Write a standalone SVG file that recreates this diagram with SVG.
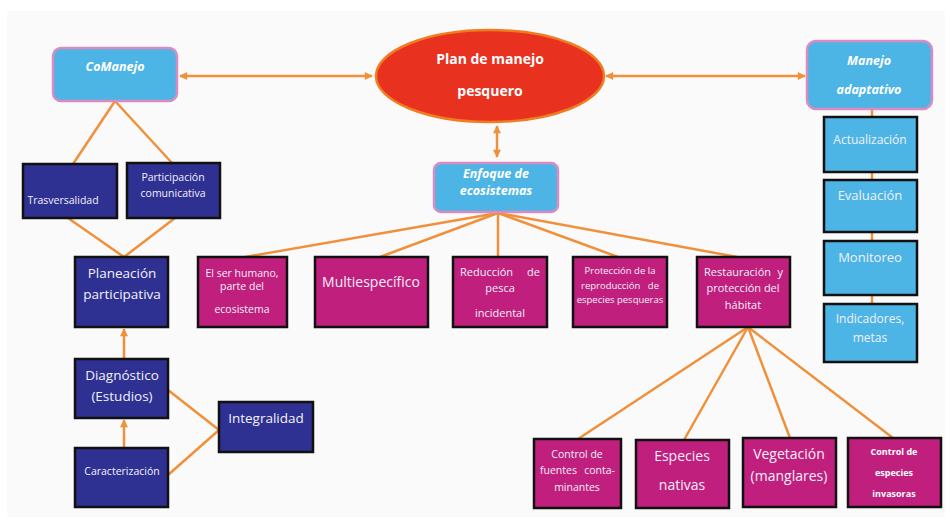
<svg xmlns="http://www.w3.org/2000/svg" width="950" height="524" viewBox="0 0 950 524">
<defs>
<style>
.bg{fill:#fafafa}
.ln{stroke:#f0903a;stroke-width:2.5;fill:none}
.hdr{fill:#4db5e6;stroke:#d98cc2;stroke-width:2.5}
.navy{fill:#2e3192;stroke:#111;stroke-width:2.5}
.mag{fill:#c01f7e;stroke:#111;stroke-width:2.5}
.blue{fill:#4db5e6;stroke:#111;stroke-width:2.5}
text{font-family:"Open Sans","Liberation Sans",sans-serif;fill:#f2f0f8;text-anchor:middle}
text.s{text-anchor:start}
text.e{text-anchor:end}
.hi{font-style:italic;font-weight:bold;fill:#fff;font-size:12.5px}
.b{font-weight:bold;fill:#fff}
</style>
<marker id="ah" viewBox="0 0 10 10" refX="9" refY="5" markerWidth="9" markerHeight="8" markerUnits="userSpaceOnUse" orient="auto-start-reverse">
<path d="M0,0 L10,5 L0,10 z" fill="#f0903a"/>
</marker>
</defs>
<rect class="bg" x="7" y="11" width="938" height="506"/>
<g id="connectors">
<line class="ln" x1="180" y1="76" x2="372" y2="76" marker-start="url(#ah)" marker-end="url(#ah)"/>
<line class="ln" x1="606" y1="76" x2="805" y2="76" marker-start="url(#ah)" marker-end="url(#ah)"/>
<line class="ln" x1="497" y1="126" x2="497" y2="157" marker-start="url(#ah)" marker-end="url(#ah)"/>
<line class="ln" x1="115" y1="101" x2="73" y2="164"/>
<line class="ln" x1="115" y1="101" x2="172" y2="163"/>
<line class="ln" x1="68" y1="218" x2="124" y2="257"/>
<line class="ln" x1="175" y1="218" x2="124" y2="257"/>
<line class="ln" x1="124" y1="359" x2="124" y2="329" marker-end="url(#ah)"/>
<line class="ln" x1="124" y1="448" x2="124" y2="420" marker-end="url(#ah)"/>
<line class="ln" x1="168" y1="390" x2="219" y2="430"/>
<line class="ln" x1="168" y1="475" x2="219" y2="430"/>
<line class="ln" x1="498" y1="213" x2="245" y2="257"/>
<line class="ln" x1="498" y1="213" x2="380" y2="257"/>
<line class="ln" x1="498" y1="213" x2="498" y2="257"/>
<line class="ln" x1="498" y1="213" x2="618" y2="257"/>
<line class="ln" x1="498" y1="213" x2="737" y2="257"/>
<line class="ln" x1="748" y1="327" x2="578" y2="439"/>
<line class="ln" x1="748" y1="327" x2="684" y2="440"/>
<line class="ln" x1="748" y1="327" x2="790" y2="438"/>
<line class="ln" x1="748" y1="327" x2="893" y2="438"/>
<line class="ln" x1="872" y1="109" x2="872" y2="117"/>
<line class="ln" x1="872" y1="172" x2="872" y2="180"/>
<line class="ln" x1="872" y1="232" x2="872" y2="241"/>
<line class="ln" x1="872" y1="295" x2="872" y2="304"/>
</g>
<g id="plan">
<ellipse cx="490" cy="76" rx="114" ry="46" fill="#e8311f" stroke="#f07b20" stroke-width="2.5"/>
<text class="b" x="490" y="64" font-size="14">Plan de manejo</text>
<text class="b" x="490" y="96" font-size="14">pesquero</text>
</g>
<g id="comanejo">
<rect class="hdr" x="53" y="48" width="124" height="53" rx="8"/>
<text class="hi" x="115" y="71">CoManejo</text>
</g>
<g id="manejo-adaptativo">
<rect class="hdr" x="807" y="41" width="125" height="68" rx="9"/>
<text class="hi" x="869" y="65">Manejo</text>
<text class="hi" x="869" y="94">adaptativo</text>
</g>
<g id="enfoque">
<rect class="hdr" x="434" y="163" width="124" height="49" rx="7"/>
<text class="hi" x="496" y="178" font-size="11.5">Enfoque de</text>
<text class="hi" x="496" y="195" font-size="11.5">ecosistemas</text>
</g>
<g id="trasversalidad">
<rect class="navy" x="23" y="164" width="94" height="54"/>
<text x="63" y="204" font-size="10.5">Trasversalidad</text>
</g>
<g id="participacion">
<rect class="navy" x="127" y="163" width="93" height="55"/>
<text x="173" y="181" font-size="10.5">Participación</text>
<text x="173" y="197" font-size="10.5">comunicativa</text>
</g>
<g id="planeacion">
<rect class="navy" x="75" y="257" width="93" height="70"/>
<text x="122" y="278" font-size="13.5">Planeación</text>
<text x="122" y="299" font-size="13.5">participativa</text>
</g>
<g id="diagnostico">
<rect class="navy" x="75" y="359" width="93" height="59"/>
<text x="122" y="380" font-size="13.5">Diagnóstico</text>
<text x="122" y="401" font-size="13.5">(Estudios)</text>
</g>
<g id="caracterizacion">
<rect class="navy" x="75" y="448" width="93" height="59"/>
<text x="122" y="475" font-size="10.5">Caracterización</text>
</g>
<g id="integralidad">
<rect class="navy" x="219" y="402" width="94" height="50"/>
<text x="266" y="423" font-size="13.5">Integralidad</text>
</g>
<g id="ser-humano">
<rect class="mag" x="198" y="257" width="89" height="70"/>
<text x="242" y="277" font-size="10.5">El ser humano,</text>
<text x="242" y="290" font-size="10.5">parte del</text>
<text x="242" y="313" font-size="10.5">ecosistema</text>
</g>
<g id="multiespecifico">
<rect class="mag" x="315" y="257" width="113" height="70"/>
<text x="371" y="287" font-size="14">Multiespecífico</text>
</g>
<g id="reduccion">
<rect class="mag" x="453" y="257" width="94" height="70"/>
<text class="s" x="460" y="276" font-size="11">Reducción</text>
<text class="e" x="540" y="276" font-size="11">de</text>
<text x="500" y="292" font-size="11">pesca</text>
<text x="500" y="317" font-size="11">incidental</text>
</g>
<g id="proteccion">
<rect class="mag" x="573" y="257" width="94" height="70"/>
<text x="620" y="274" font-size="9.5">Protección de la</text>
<text class="s" x="581" y="289" font-size="9.5">reproducción</text>
<text class="e" x="659" y="289" font-size="9.5">de</text>
<text x="620" y="303" font-size="9.5">especies pesqueras</text>
</g>
<g id="restauracion">
<rect class="mag" x="697" y="257" width="93" height="70"/>
<text class="s" x="704" y="276" font-size="11">Restauración</text>
<text class="e" x="783" y="276" font-size="11">y</text>
<text x="743" y="292" font-size="11">protección del</text>
<text x="743" y="309" font-size="11">hábitat</text>
</g>
<g id="control-fuentes">
<rect class="mag" x="534" y="439" width="87" height="69"/>
<text x="577" y="458" font-size="10.5">Control de</text>
<text class="s" x="540" y="474" font-size="10.5">fuentes</text>
<text class="e" x="615" y="474" font-size="10.5">conta-</text>
<text x="577" y="491" font-size="10.5">minantes</text>
</g>
<g id="especies-nativas">
<rect class="mag" x="636" y="440" width="93" height="68"/>
<text x="682" y="461" font-size="14">Especies</text>
<text x="682" y="490" font-size="14">nativas</text>
</g>
<g id="vegetacion">
<rect class="mag" x="743" y="438" width="93" height="69"/>
<text x="789" y="459" font-size="14">Vegetación</text>
<text x="789" y="481" font-size="14">(manglares)</text>
</g>
<g id="control-invasoras">
<rect class="mag" x="848" y="438" width="93" height="69"/>
<text class="b" x="894" y="455" font-size="9">Control de</text>
<text class="b" x="894" y="476" font-size="9">especies</text>
<text class="b" x="894" y="497" font-size="9">invasoras</text>
</g>
<g id="actualizacion">
<rect class="blue" x="824" y="117" width="93" height="55"/>
<text x="870" y="144" font-size="12">Actualización</text>
</g>
<g id="evaluacion">
<rect class="blue" x="824" y="180" width="93" height="52"/>
<text x="870" y="200" font-size="13">Evaluación</text>
</g>
<g id="monitoreo">
<rect class="blue" x="824" y="241" width="93" height="54"/>
<text x="870" y="262" font-size="13">Monitoreo</text>
</g>
<g id="indicadores">
<rect class="blue" x="824" y="304" width="93" height="58"/>
<text x="870" y="323" font-size="12">Indicadores,</text>
<text x="870" y="342" font-size="12">metas</text>
</g>
</svg>
